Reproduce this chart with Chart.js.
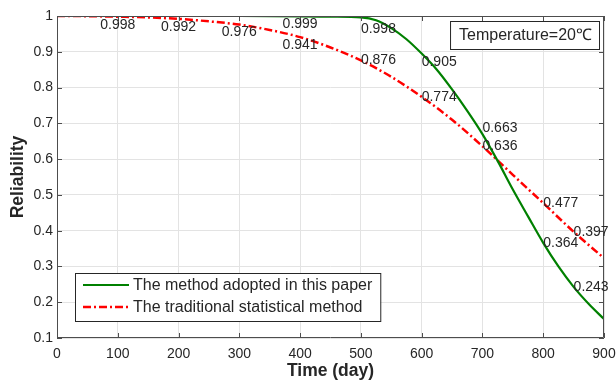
<!DOCTYPE html>
<html>
<head>
<meta charset="utf-8">
<script src="https://cdn.jsdelivr.net/npm/chart.js@4.4.1/dist/chart.umd.min.js"></script>
<style>
  html, body { margin: 0; padding: 0; background: #fff; }
  #wrap { width: 616px; height: 386px; }
</style>
</head>
<body>
<div id="wrap"><canvas id="relChart"></canvas></div>
<script>
// curve samples
const greenDays = [0, 100, 200, 300, 400, 450, 500, 525, 550, 575, 600, 625, 650, 675, 700, 725, 750, 775, 800, 825, 850, 875, 900];
const greenRel = [1, 1, 1, 1, 0.999, 0.998, 0.996, 0.988, 0.966, 0.935, 0.895, 0.85, 0.795, 0.735, 0.67, 0.595, 0.515, 0.44, 0.366, 0.30, 0.243, 0.195, 0.153];
const redDays = [0, 50, 100, 150, 200, 250, 300, 350, 400, 450, 500, 550, 600, 650, 700, 750, 800, 850, 900];
const redRel = [1, 0.9995, 0.998, 0.996, 0.992, 0.985, 0.976, 0.961, 0.941, 0.912, 0.876, 0.83, 0.774, 0.71, 0.636, 0.556, 0.477, 0.397, 0.323];

// value labels written on the curves
const labelDays = [100, 200, 300, 400, 400, 500, 500, 600, 600, 700, 700, 800, 800, 850, 850];
const labelVals = [0.998, 0.992, 0.976, 0.999, 0.941, 0.998, 0.876, 0.905, 0.774, 0.663, 0.636, 0.477, 0.364, 0.397, 0.243];
const labelPlace = ['below', 'below', 'below', 'below', 'below', 'rightLow', 'right', 'rightLow', 'right', 'rightHigh', 'right', 'right', 'right', 'right', 'right'];

const xTicks = [0, 100, 200, 300, 400, 500, 600, 700, 800, 900];
const yTicks = [0.1, 0.2, 0.3, 0.4, 0.5, 0.6, 0.7, 0.8, 0.9, 1];

const seriesNames = ['The method adopted in this paper', 'The traditional statistical method'];
const boxText = 'Temperature=20\u2103';

const FONT = '"Liberation Sans", Arial, Helvetica, sans-serif';
const INK = '#262626';

const toPts = (xs, ys) => xs.map((x, i) => ({ x: x, y: ys[i] }));

const placeOffsets = {
    below: { align: 'center', dy: 8 },
    right: { align: 'left', dy: 0 },
    rightLow: { align: 'left', dy: 12 },
    rightHigh: { align: 'left', dy: -8 }
};

const decorPlugin = {
    id: 'decor',
    afterDatasetsDraw(chart) {
        const ctx = chart.ctx;
        const a = chart.chartArea;
        const xs = chart.scales.x, ys = chart.scales.y;
        ctx.save();

        // axes box + inward ticks
        ctx.strokeStyle = '#4d4d4d';
        ctx.lineWidth = 1;
        ctx.beginPath();
        ctx.rect(a.left + 0.5, a.top + 0.5, a.right - a.left - 1, a.bottom - a.top - 1);
        xTicks.forEach(t => {
            const px = Math.round(xs.getPixelForValue(t)) + 0.5;
            ctx.moveTo(px, a.bottom); ctx.lineTo(px, a.bottom - 5);
            ctx.moveTo(px, a.top); ctx.lineTo(px, a.top + 5);
        });
        yTicks.forEach(t => {
            const py = Math.round(ys.getPixelForValue(t)) + 0.5;
            ctx.moveTo(a.left, py); ctx.lineTo(a.left + 5, py);
            ctx.moveTo(a.right, py); ctx.lineTo(a.right - 5, py);
        });
        ctx.stroke();

        // value labels
        ctx.fillStyle = INK;
        ctx.font = '14px ' + FONT;
        ctx.textBaseline = 'middle';
        labelDays.forEach((d, i) => {
            const p = placeOffsets[labelPlace[i]];
            ctx.textAlign = p.align;
            ctx.fillText(labelVals[i].toFixed(3), xs.getPixelForValue(d), ys.getPixelForValue(labelVals[i]) + p.dy);
        });

        // temperature box
        ctx.font = '16px ' + FONT;
        ctx.textAlign = 'left';
        const tw = ctx.measureText(boxText).width;
        const bw = tw + 16, bh = 28;
        const bx = a.right - 5 - bw, by = a.top + 5;
        ctx.fillStyle = '#fff';
        ctx.fillRect(bx, by, bw, bh);
        ctx.strokeStyle = '#262626';
        ctx.strokeRect(bx + 0.5, by + 0.5, bw, bh);
        ctx.fillStyle = INK;
        ctx.fillText(boxText, bx + 9, by + bh / 2 + 1);

        // legend
        const lw = Math.max(...seriesNames.map(s => ctx.measureText(s).width));
        const lgW = 58 + lw + 8, lgH = 48;
        const lx = a.left + 18, ly = a.bottom - 17 - lgH;
        ctx.fillStyle = '#fff';
        ctx.fillRect(lx, ly, lgW, lgH);
        ctx.strokeStyle = '#262626';
        ctx.strokeRect(lx + 0.5, ly + 0.5, lgW, lgH);
        chart.data.datasets.forEach((ds, i) => {
            const ry = ly + 12 + i * 22;
            ctx.strokeStyle = ds.borderColor;
            ctx.lineWidth = ds.borderWidth;
            ctx.setLineDash(ds.borderDash || []);
            ctx.beginPath();
            ctx.moveTo(lx + 8, ry); ctx.lineTo(lx + 54, ry);
            ctx.stroke();
            ctx.setLineDash([]);
            ctx.fillStyle = INK;
            ctx.fillText(ds.label, lx + 58, ry + 1);
        });
        ctx.restore();
    }
};

new Chart(document.getElementById('relChart'), {
    type: 'line',
    data: {
        datasets: [{
            label: seriesNames[0],
            data: toPts(greenDays, greenRel),
            borderColor: '#008000',
            borderWidth: 2.2,
            pointRadius: 0,
            cubicInterpolationMode: 'monotone',
            fill: false
        }, {
            label: seriesNames[1],
            data: toPts(redDays, redRel),
            borderColor: '#ff0000',
            borderWidth: 2.5,
            borderDash: [8, 3, 2, 3],
            pointRadius: 0,
            cubicInterpolationMode: 'monotone',
            fill: false
        }]
    },
    options: {
        responsive: true,
        maintainAspectRatio: false,
        animation: false,
        layout: { padding: { left: 0, right: 12, top: 16, bottom: 0 } },
        plugins: { legend: { display: false }, tooltip: { enabled: false } },
        scales: {
            x: {
                type: 'linear',
                min: 0, max: 900,
                afterBuildTicks: s => { s.ticks = xTicks.map(v => ({ value: v })); },
                afterFit: s => { s.height = 48; s.paddingRight = 0; s.paddingLeft = 0; },
                grid: { color: '#e3e3e3', drawTicks: false },
                border: { display: false },
                ticks: { color: INK, font: { family: FONT, size: 14 }, padding: 8, maxRotation: 0 },
                title: { display: true, text: 'Time (day)', color: INK, font: { family: FONT, size: 17.5, weight: 'bold' }, padding: { top: 0, bottom: 4 } }
            },
            y: {
                min: 0.1, max: 1,
                afterBuildTicks: s => { s.ticks = yTicks.map(v => ({ value: v })); },
                afterFit: s => { s.width = 57; s.paddingTop = 0; s.paddingBottom = 0; },
                grid: { color: '#e3e3e3', drawTicks: false },
                border: { display: false },
                ticks: { color: INK, font: { family: FONT, size: 14 }, padding: 4, callback: v => (v === 1 ? '1' : v.toFixed(1)) },
                title: { display: true, text: 'Reliability', color: INK, font: { family: FONT, size: 17.5, weight: 'bold' }, padding: { top: 8, bottom: 0 } }
            }
        }
    },
    plugins: [decorPlugin]
});
</script>
</body>
</html>
